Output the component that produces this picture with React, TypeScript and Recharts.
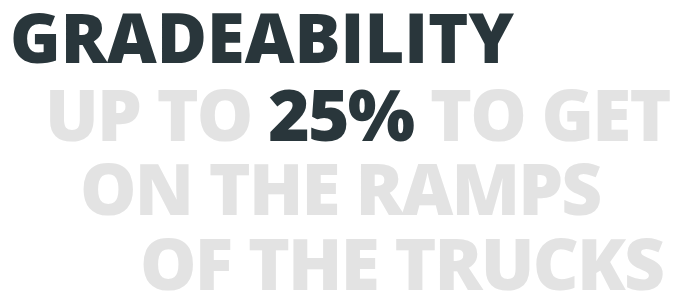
import React from "react";
import { Surface, Layer } from "recharts";

const titleText = "GRADEABILITY";
const lineSegments: { text: string; highlight: boolean }[][] = [
  [
    { text: "UP TO ", highlight: false },
    { text: "25%", highlight: true },
    { text: " TO GET", highlight: false },
  ],
  [{ text: "ON THE RAMPS", highlight: false }],
  [{ text: "OF THE TRUCKS", highlight: false }],
];
const lineX = [45, 80, 140];
const lineY = [141, 215, 290];

const DARK = "#29363b";
const LIGHT = "#e3e3e3";
const FONT = "'Open Sans', sans-serif";

export default function App() {
  return (
    <div style={{ position: "absolute", left: 0, top: 0, width: 683, height: 293, background: "#fff" }}>
      <Surface width={683} height={293}>
        <Layer>
          <text x={10} y={63} fontFamily={FONT} fontWeight={800} fontSize={68.5} fill={DARK} style={{ whiteSpace: "pre" }}>
            {titleText}
          </text>
          {lineSegments.map((segs, i) => (
            <text key={i} x={lineX[i]} y={lineY[i]} fontFamily={FONT} fontWeight={800} fontSize={71} letterSpacing={-1.8} fill={LIGHT} style={{ whiteSpace: "pre" }}>
              {segs.map((s, j) => (
                <tspan key={j} fill={s.highlight ? DARK : LIGHT}>{s.text}</tspan>
              ))}
            </text>
          ))}
        </Layer>
      </Surface>
    </div>
  );
}
